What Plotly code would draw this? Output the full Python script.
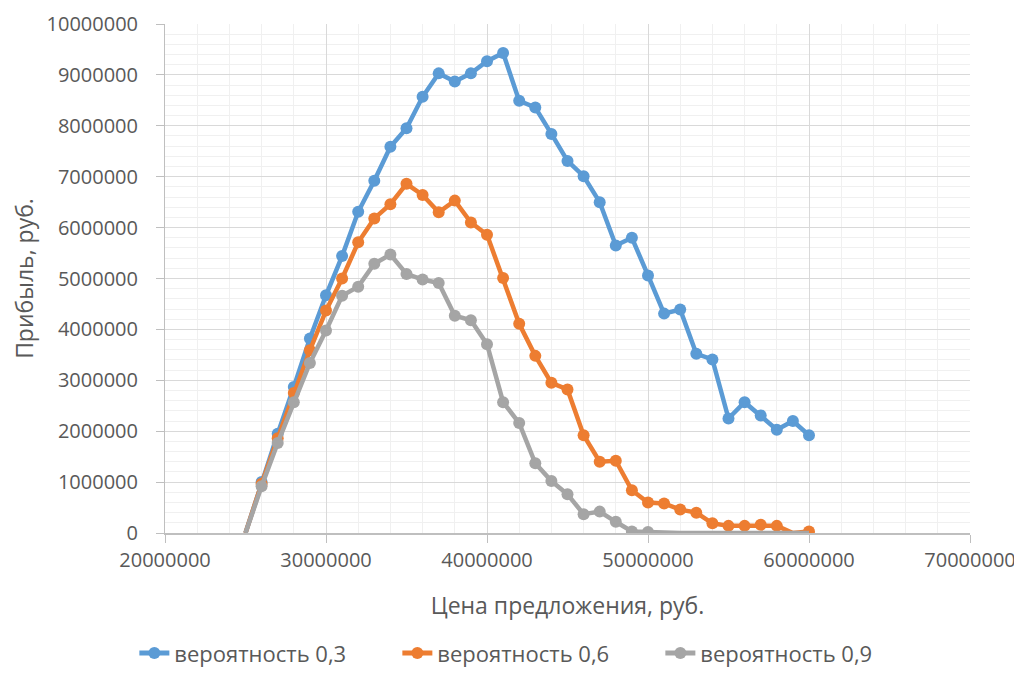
import plotly.graph_objects as go

prices = [25e6, 26e6, 27e6, 28e6, 29e6, 30e6, 31e6, 32e6, 33e6, 34e6, 35e6, 36e6,
          37e6, 38e6, 39e6, 40e6, 41e6, 42e6, 43e6, 44e6, 45e6, 46e6, 47e6, 48e6,
          49e6, 50e6, 51e6, 52e6, 53e6, 54e6, 55e6, 56e6, 57e6, 58e6, 59e6, 60e6]

profit_03 = [0, 1000000, 1950000, 2870000, 3820000, 4670000, 5440000, 6310000, 6920000,
             7590000, 7950000, 8570000, 9030000, 8870000, 9030000, 9270000, 9430000,
             8490000, 8360000, 7840000, 7310000, 7010000, 6500000, 5650000, 5800000,
             5060000, 4310000, 4390000, 3520000, 3410000, 2250000, 2570000, 2310000,
             2030000, 2200000, 1920000]

profit_06 = [0, 970000, 1860000, 2750000, 3590000, 4370000, 5000000, 5710000, 6180000,
             6460000, 6860000, 6640000, 6300000, 6530000, 6100000, 5860000, 5010000,
             4110000, 3480000, 2950000, 2820000, 1920000, 1400000, 1420000, 840000,
             600000, 580000, 460000, 400000, 190000, 140000, 140000, 160000, 140000,
             0, 30000]

profit_09 = [0, 920000, 1770000, 2570000, 3340000, 3980000, 4660000, 4840000, 5290000,
             5470000, 5090000, 4980000, 4910000, 4270000, 4180000, 3710000, 2570000,
             2160000, 1370000, 1020000, 760000, 370000, 420000, 220000, 30000, 20000,
             0, 0, 0, 0, 0, 0, 0, 0, 0, 0]

series_names = ["вероятность 0,3", "вероятность 0,6", "вероятность 0,9"]
colors = ["#5B9BD5", "#ED7D31", "#A5A5A5"]

x_ticks = [20e6, 30e6, 40e6, 50e6, 60e6, 70e6]
y_ticks = [0, 1e6, 2e6, 3e6, 4e6, 5e6, 6e6, 7e6, 8e6, 9e6, 10e6]

FONT = "Open Sans"
TXT = "#595959"

fig = go.Figure()
for name, vals, col in zip(series_names, [profit_03, profit_06, profit_09], colors):
    sizes = [12 if v > 0 else 0 for v in vals]
    fig.add_trace(go.Scatter(
        x=prices, y=vals, name=name, mode="lines+markers",
        line=dict(color=col, width=4.5),
        marker=dict(color=col, size=sizes, opacity=1, line=dict(width=0)),
    ))

# page body has an 8px margin, so the figure is sized/margined to compensate
fig.update_layout(
    width=1014, height=679,
    paper_bgcolor="white", plot_bgcolor="white",
    margin=dict(l=157, r=52, t=16, b=154, autoexpand=False),
    font=dict(family=FONT, size=20, color=TXT),
    showlegend=True,
    legend=dict(orientation="h", x=0.452, xanchor="center", y=-0.195, yanchor="top",
                font=dict(family=FONT, size=22, color=TXT),
                entrywidth=218, entrywidthmode="pixels",
                itemsizing="constant",
                traceorder="normal"),
)

fig.update_xaxes(
    range=[20e6, 70e6], tickvals=x_ticks, ticktext=[f"{int(v)}" for v in x_ticks],
    automargin=False,
    showgrid=True, gridcolor="#D9D9D9", gridwidth=1,
    minor=dict(dtick=2e6, showgrid=True, gridcolor="#F0F0F0", gridwidth=1),
    showline=True, linecolor="#BFBFBF", linewidth=1.5,
    ticks="outside", ticklen=8, tickcolor="#BFBFBF",
    zeroline=False,
    tickfont=dict(family=FONT, size=20, color=TXT),
    title=dict(text="Цена предложения, руб.", font=dict(family=FONT, size=23, color=TXT), standoff=26),
)
fig.update_yaxes(
    range=[0, 10e6], tickvals=y_ticks, ticktext=[f"{int(v)}" for v in y_ticks],
    automargin=False,
    showgrid=True, gridcolor="#D9D9D9", gridwidth=1,
    minor=dict(dtick=2e5, showgrid=True, gridcolor="#F0F0F0", gridwidth=1),
    showline=True, linecolor="#BFBFBF", linewidth=1,
    ticks="outside", ticklen=8, tickcolor="#BFBFBF",
    zeroline=False,
    ticklabelstandoff=14,
    tickfont=dict(family=FONT, size=20, color=TXT),
    title=dict(text="Прибыль, руб.", font=dict(family=FONT, size=23, color=TXT), standoff=14),
)

fig.write_html("out.html")
